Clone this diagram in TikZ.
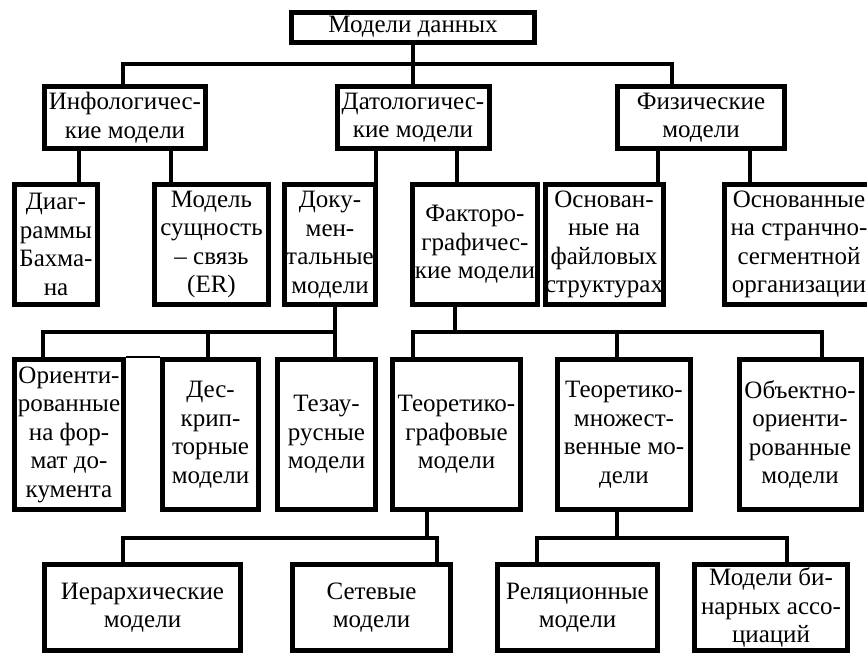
\documentclass[tikz,border=0pt]{standalone}
\usepackage{fontspec}
\setmainfont{Liberation Serif}
\begin{document}
\begin{tikzpicture}[x=1pt,y=-1pt,
  box/.style={draw=black, line width=5pt, inner sep=0pt, align=center,
    font=\fontsize{25}{28.5}\selectfont},
  conn/.style={line width=4.5pt, line cap=rect, line join=miter},
  seam/.style={line width=2.5pt}]
\useasboundingbox (0,0) rectangle (867,654);
\clip (0,0) rectangle (867,654);

% root
\node[box, minimum width=243pt, minimum height=30pt] (top) at (413,27) {Модели данных};

% level 1
\node[box, minimum width=161pt, minimum height=62pt] (info) at (125,117.5) {Инфологичес-\\кие модели};
\node[box, minimum width=152pt, minimum height=62pt] (dato) at (413,117.5) {Датологичес-\\кие модели};
\node[box, minimum width=167pt, minimum height=62pt] (phys) at (701,117.5) {Физические\\модели};

% level 2
\node[box, minimum width=83pt, minimum height=120pt] (diag) at (56,244.5) {Диаг-\\раммы\\Бахма-\\на};
\node[box, minimum width=114pt, minimum height=120pt] (model) at (211.5,244.5) {Модель\\сущность\\– связь\\(ER)};
\node[box, minimum width=91pt, minimum height=120pt] (doc) at (330,244.5) {Доку-\\мен-\\тальные\\модели};
\node[box, minimum width=125pt, minimum height=120pt] (fact) at (475,244.5) {Факторо-\\графичес-\\кие модели};
\node[box, minimum width=100pt, minimum height=120pt] (fstruct) at (604,244.5) {Основан-\\ные на\\файловых\\структурах};
\node[box, minimum width=150pt, minimum height=120pt] (seg) at (799,244.5) {Основанные\\на странчно-\\сегментной\\организации};

% level 3
\node[box, minimum width=109pt, minimum height=150pt] (orient) at (69,434.5) {Ориенти-\\рованные\\на фор-\\мат до-\\кумента};
\node[box, minimum width=96pt, minimum height=150pt] (desc) at (210.5,434.5) {Дес-\\крип-\\торные\\модели};
\node[box, minimum width=98pt, minimum height=150pt] (tez) at (326.5,434.5) {Тезау-\\русные\\модели};
\node[box, minimum width=128pt, minimum height=150pt] (tg) at (456.5,434.5) {Теоретико-\\графовые\\модели};
\node[box, minimum width=133pt, minimum height=150pt] (tm) at (624,434.5) {Теоретико-\\множест-\\венные мо-\\дели};
\node[box, minimum width=122pt, minimum height=150pt] (obj) at (800,434.5) {Объектно-\\ориенти-\\рованные\\модели};

% level 4
\node[box, minimum width=196pt, minimum height=86pt] (hier) at (142.5,607.5) {Иерархические\\модели};
\node[box, minimum width=158pt, minimum height=86pt] (net) at (371.5,607.5) {Сетевые\\модели};
\node[box, minimum width=160pt, minimum height=86pt] (rel) at (577.5,607.5) {Реляционные\\модели};
\node[box, minimum width=153pt, minimum height=86pt] (bin) at (771,607.5) {Модели би-\\нарных ассо-\\циаций};

% bus levels
\coordinate (bus1) at (0,64);
\coordinate (bus2) at (0,332);
\coordinate (bus3a) at (0,538);

% attachment points
\coordinate (info-in) at ([xshift=-2pt]info.north);
\coordinate (phys-in) at ([xshift=-29pt]phys.north);
\coordinate (io1) at ([xshift=-46pt]info.south);
\coordinate (io2) at ([xshift=46pt]info.south);
\coordinate (do1) at ([xshift=-37pt]dato.south);
\coordinate (do2) at ([xshift=44pt]dato.south);
\coordinate (po1) at ([xshift=-43pt]phys.south);
\coordinate (po2) at ([xshift=49pt]phys.south);
\coordinate (doc-out) at ([xshift=5pt]doc.south);
\coordinate (orient-in) at ([xshift=-26pt]orient.north);
\coordinate (desc-in) at ([xshift=-2.5pt]desc.north);
\coordinate (fact-out) at ([xshift=-20pt]fact.south);
\coordinate (tg-in) at ([xshift=-43.5pt]tg.north);
\coordinate (tm-in) at ([xshift=-7pt]tm.north);
\coordinate (obj-in) at ([xshift=22pt]obj.north);
\coordinate (tg-out) at ([xshift=-29.5pt]tg.south);
\coordinate (tm-out) at ([xshift=-7pt]tm.south);
\coordinate (hier-in) at ([xshift=-19.5pt]hier.north);
\coordinate (net-in) at ([xshift=65.5pt]net.north);
\coordinate (rel-in) at ([xshift=-40.5pt]rel.north);
\coordinate (bin-in) at ([xshift=16pt]bin.north);

% root to level 1
\draw[conn] (top.south) -- (dato.north);
\draw[conn] (info-in) |- (bus1 -| phys-in) -- (phys-in);

% level 1 to level 2
\draw[conn] (io1) -- (io1 |- diag.north);
\draw[conn] (io2) -- (io2 |- model.north);
\draw[conn] (do1) -- (do1 |- doc.north);
\draw[conn] (do2) -- (do2 |- fact.north);
\draw[conn] (po1) -- (po1 |- fstruct.north);
\draw[conn] (po2) -- (po2 |- seg.north);

% documentary branch
\draw[conn] (doc-out) -- (doc-out |- tez.north);
\draw[conn] (orient-in) |- (bus2 -| doc-out);
\draw[conn] (desc-in) -- (desc-in |- bus2);
\draw[seam] (orient.north east) -- (desc.north west);

% factographic branch
\draw[conn] (fact-out) -- (fact-out |- bus2);
\draw[conn] (tg-in) |- (bus2 -| obj-in) -- (obj-in);
\draw[conn] (tm-in) -- (tm-in |- bus2);

% graph-theoretic branch
\draw[conn] (tg-out) -- (tg-out |- bus3a);
\draw[conn] (hier-in) |- (bus3a -| net-in) -- (net-in);

% set-theoretic branch
\draw[conn] (tm-out) -- (tm-out |- bus3a);
\draw[conn] (rel-in) |- (bus3a -| bin-in) -- (bin-in);
\end{tikzpicture}
\end{document}
